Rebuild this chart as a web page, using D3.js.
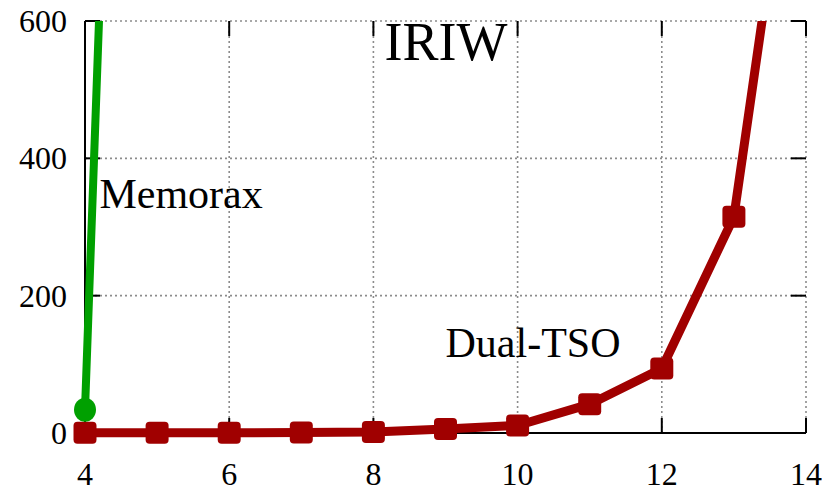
<!DOCTYPE html>
<html><head><meta charset="utf-8">
<script src="https://cdn.jsdelivr.net/npm/d3@7"></script>
<style>body{margin:0;background:#fff}svg{display:block}</style>
</head><body>
<svg id="c" width="822" height="493"></svg>
<script>
const xTicks = [4, 6, 8, 10, 12, 14];
const yTicks = [0, 200, 400, 600];
const dualX = [4, 5, 6, 7, 8, 9, 10, 11, 12, 13, 14];
const dualY = [0.2, 0.3, 0.4, 0.6, 1.5, 6, 11, 42, 94, 315, 1045];
const memX = [4, 5];
const memY = [34, 2950];
const title = "IRIW";
const labels = [{text: "Memorax", x: 4.2, y: 328}, {text: "Dual-TSO", x: 9.0, y: 110}];

const svg = d3.select("#c");
const FONT = "Liberation Serif";
const L = 85, R = 806, T = 21, B = 433;
const x = d3.scaleLinear().domain([4, 14]).range([L, R]);
const y = d3.scaleLinear().domain([0, 600]).range([B, T]);

svg.append("defs").append("clipPath").attr("id", "clip")
  .append("rect").attr("x", 0).attr("y", T).attr("width", 822).attr("height", 493 - T);

// grid
const grid = svg.append("g").attr("stroke", "#8c8c8c").attr("stroke-width", 1.6).attr("stroke-dasharray", "2,3");
xTicks.slice(1).forEach(v => grid.append("line").attr("x1", x(v)).attr("x2", x(v)).attr("y1", T).attr("y2", B));
yTicks.slice(1).forEach(v => grid.append("line").attr("x1", L).attr("x2", R).attr("y1", y(v)).attr("y2", y(v)));

// axes with mirrored inward ticks
const tl = 15;
const ax = svg.append("g").attr("stroke", "#000").attr("stroke-width", 2);
ax.append("line").attr("x1", L).attr("x2", L).attr("y1", T).attr("y2", B);
ax.append("line").attr("x1", L).attr("x2", R).attr("y1", B).attr("y2", B);
xTicks.forEach(v => {
  ax.append("line").attr("x1", x(v)).attr("x2", x(v)).attr("y1", B).attr("y2", B - tl);
  ax.append("line").attr("x1", x(v)).attr("x2", x(v)).attr("y1", T).attr("y2", T + tl);
});
yTicks.forEach(v => {
  ax.append("line").attr("x1", L).attr("x2", L + tl).attr("y1", y(v)).attr("y2", y(v));
  ax.append("line").attr("x1", R).attr("x2", R - tl).attr("y1", y(v)).attr("y2", y(v));
});

// tick labels
svg.append("g").selectAll("text").data(xTicks).join("text")
  .attr("x", d => x(d)).attr("y", 485).attr("text-anchor", "middle")
  .attr("font-family", FONT).attr("font-size", 32).attr("fill", "#000").text(d => d);
svg.append("g").selectAll("text").data(yTicks).join("text")
  .attr("x", 67).attr("y", d => y(d) + 11).attr("text-anchor", "end")
  .attr("font-family", FONT).attr("font-size", 32).attr("fill", "#000").text(d => d);

const line = d3.line().x(d => x(d[0])).y(d => y(d[1]));
const dual = dualX.map((v, i) => [v, dualY[i]]);
const mem = memX.map((v, i) => [v, memY[i]]);

svg.append("path").datum(dual).attr("d", line).attr("clip-path", "url(#clip)")
  .attr("fill", "none").attr("stroke", "#a00000").attr("stroke-width", 9)
  .attr("stroke-linejoin", "round").attr("stroke-linecap", "round");
svg.append("g").selectAll("rect").data(dual.filter(d => d[1] <= 600)).join("rect")
  .attr("x", d => x(d[0]) - 11.5).attr("y", d => y(d[1]) - 11).attr("width", 23).attr("height", 22)
  .attr("rx", 4).attr("fill", "#a00000");

svg.append("path").datum(mem).attr("d", line).attr("clip-path", "url(#clip)")
  .attr("fill", "none").attr("stroke", "#00a000").attr("stroke-width", 8)
  .attr("stroke-linejoin", "round").attr("stroke-linecap", "round");
svg.append("g").selectAll("ellipse").data(mem.filter(d => d[1] <= 600)).join("ellipse")
  .attr("cx", d => x(d[0])).attr("cy", d => y(d[1])).attr("rx", 11).attr("ry", 12)
  .attr("fill", "#00a000");

// title and labels
svg.append("text").attr("x", 446).attr("y", 60).attr("text-anchor", "middle")
  .attr("font-family", FONT).attr("font-size", 54).attr("fill", "#000").text(title);
svg.selectAll(".lab").data(labels).join("text").attr("class", "lab")
  .attr("x", d => x(d.x)).attr("y", d => y(d.y)).attr("font-family", FONT)
  .attr("font-size", 42).attr("fill", "#000").text(d => d.text);
</script>
</body></html>
